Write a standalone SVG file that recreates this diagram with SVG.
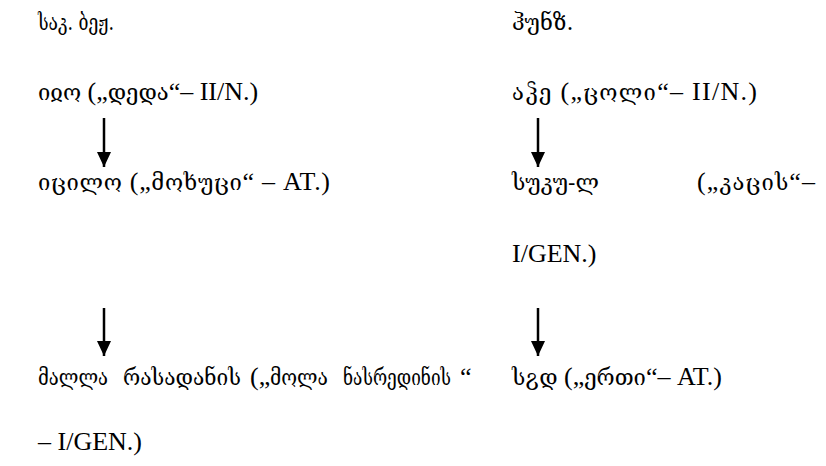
<svg xmlns="http://www.w3.org/2000/svg" width="826" height="466" viewBox="0 0 826 466">
<defs>
<style>
text{font-family:"Liberation Serif","DejaVu Serif",serif;font-size:26px;fill:#000}
.g{font-family:"DejaVu Serif","DejaVu Sans",serif;font-size:22px}
.conn line{stroke:#000;stroke-width:2.5}
</style>
<marker id="ah" viewBox="0 0 10 10" refX="10" refY="5" markerWidth="15" markerHeight="14" markerUnits="userSpaceOnUse" orient="auto" preserveAspectRatio="none">
<path d="M0,0 L10,5 L0,10 z" fill="#000"/>
</marker>
</defs>
<rect width="826" height="466" fill="#fff"/>
<g id="head-left"><text x="38" y="30" class="g" textLength="76" lengthAdjust="spacingAndGlyphs">საკ. ბეჟ.</text></g>
<g id="head-right"><text x="512" y="30"><tspan class="g">ჰუნზ.</tspan></text></g>
<g id="n1"><text x="38" y="100"><tspan class="g">იჲო</tspan> („<tspan class="g">დედა</tspan>“– II/N.)</text></g>
<g id="n2"><text x="38" y="190" textLength="292"><tspan class="g">იცილო</tspan> („<tspan class="g">მოხუცი</tspan>“ – AT.)</text></g>
<g id="n3">
<text x="38" y="385" class="g" textLength="70" lengthAdjust="spacingAndGlyphs">მალლა</text>
<text x="123" y="385" class="g" textLength="118" lengthAdjust="spacingAndGlyphs">რასადანის</text>
<text x="250" y="385">(„</text>
<text x="270" y="385" class="g" textLength="58" lengthAdjust="spacingAndGlyphs">მოლა</text>
<text x="343" y="385" class="g" textLength="108" lengthAdjust="spacingAndGlyphs">ნასრედინის</text>
<text x="460" y="385">“</text>
<text x="38" y="450">– I/GEN.)</text>
</g>
<g id="m1"><text x="512" y="100" textLength="245"><tspan class="g">აჴე</tspan> („<tspan class="g">ცოლი</tspan>“– II/N.)</text></g>
<g id="m2"><text x="512" y="190"><tspan class="g">სუკუ-ლ</tspan></text><text x="697" y="190" textLength="118">(„<tspan class="g">კაცის</tspan>“–</text><text x="512" y="262">I/GEN.)</text></g>
<g id="m3"><text x="512" y="385"><tspan class="g">სჷდ</tspan> („<tspan class="g">ერთი</tspan>“– AT.)</text></g>
<g class="conn" id="connectors">
<line x1="104" y1="118" x2="104" y2="167" marker-end="url(#ah)"/>
<line x1="104" y1="308" x2="104" y2="356" marker-end="url(#ah)"/>
<line x1="538" y1="118" x2="538" y2="167" marker-end="url(#ah)"/>
<line x1="538" y1="308" x2="538" y2="356" marker-end="url(#ah)"/>
</g>
</svg>
